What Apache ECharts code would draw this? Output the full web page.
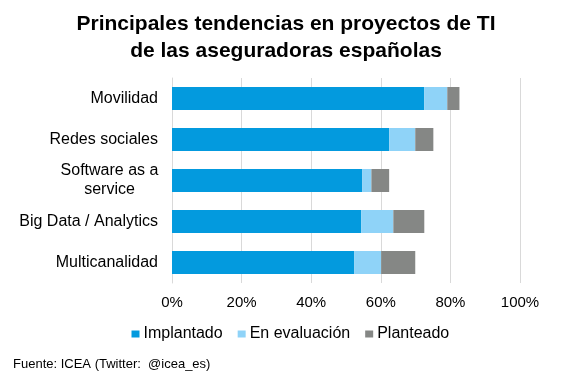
<!DOCTYPE html>
<html><head><meta charset="utf-8">
<script src="https://cdn.jsdelivr.net/npm/echarts@6/dist/echarts.min.js"></script>
<style>html,body{margin:0;padding:0;background:#fff}#c{width:567px;height:379px}</style>
</head><body><div id="c"></div>
<script>
const categories = ['Movilidad', 'Redes sociales', 'Software as a\nservice', 'Big Data / Analytics', 'Multicanalidad'];
const implantado = [72.5, 62.4, 54.7, 54.4, 52.4];
const enEvaluacion = [6.6, 7.5, 2.6, 9.2, 7.7];
const planteado = [3.5, 5.2, 5.1, 8.9, 9.8];
const tickLabels = ['0%', '20%', '40%', '60%', '80%', '100%'];

const font = 'Liberation Sans, Arial, sans-serif';
const chart = echarts.init(document.getElementById('c'));
const mk = (name, data, color) => ({
  name, type: 'bar', stack: 'a', data, barWidth: 23,
  itemStyle: { color }, emphasis: { disabled: true }
});
const yData = categories.map(c => c.indexOf('\n') >= 0
  ? { value: c, textStyle: { align: 'center', padding: [0, 97, 0, 0] } }
  : c);
chart.setOption({
  animation: false,
  title: {
    text: 'Principales tendencias en proyectos de TI\nde las aseguradoras españolas',
    left: 281, textAlign: 'center', top: 6,
    textStyle: { fontFamily: font, fontSize: 21, fontWeight: 'bold', color: '#000', lineHeight: 26.5 }
  },
  legend: {
    top: 326, left: 131.5, padding: 0, itemWidth: 8, itemHeight: 7, itemGap: 15, icon: 'rect',
    textStyle: { fontFamily: font, fontSize: 16, color: '#000', padding: [0, 0, 0, -1] },
    data: ['Implantado', 'En evaluación', 'Planteado']
  },
  graphic: [{
    type: 'text', left: 13, top: 358,
    style: { text: 'Fuente: ICEA (Twitter:  @icea_es)', font: '13px ' + font, fill: '#000' }
  }],
  grid: { left: 172, right: 47, top: 78, height: 205, containLabel: false },
  xAxis: {
    type: 'value', min: 0, max: 100, interval: 20,
    axisLabel: { formatter: v => tickLabels[v / 20], fontFamily: font, fontSize: 15, color: '#000', margin: 12 },
    splitLine: { lineStyle: { color: '#D9D9D9', width: 1 } },
    axisLine: { show: false }, axisTick: { show: false }
  },
  yAxis: {
    type: 'category', data: yData, inverse: true,
    axisLabel: { fontFamily: font, fontSize: 16, color: '#000', margin: 14, lineHeight: 19 },
    axisLine: { show: true, lineStyle: { color: '#D9D9D9' } }, axisTick: { show: false }
  },
  series: [
    mk('Implantado', implantado, '#039ADE'),
    mk('En evaluación', enEvaluacion, '#8FD3F8'),
    mk('Planteado', planteado, '#858785')
  ]
});
</script></body></html>
